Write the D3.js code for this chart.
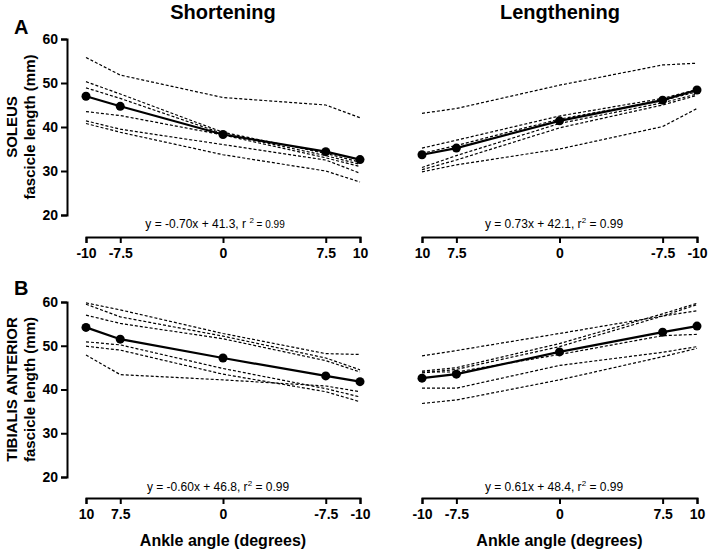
<!DOCTYPE html>
<html>
<head>
<meta charset="utf-8">
<script src="https://cdn.jsdelivr.net/npm/d3@7"></script>
<style>
  body { margin: 0; background: #fff; }
  text { font-family: "Liberation Sans", Arial, sans-serif; }
</style>
</head>
<body>
<svg id="chart" width="709" height="551"></svg>
<script>
// angle ticks shown on every x axis
const angleTicks = [-10, -7.5, 0, 7.5, 10];
const lengthTicks = [20, 30, 40, 50, 60];

// A - soleus, shortening (angles left to right: -10 .. 10)
const solShortAngles = [-10, -7.5, 0, 7.5, 10];
const solShortMean = [47.0, 44.7, 38.3, 34.4, 32.6];
const solShortSubjects = [
  [55.8, 51.8, 46.7, 45.0, 42.1],
  [50.3, 47.5, 38.8, 34.0, 32.0],
  [48.9, 46.5, 38.5, 33.5, 31.5],
  [43.5, 42.6, 38.2, 33.0, 31.0],
  [41.4, 39.5, 36.0, 32.5, 29.5],
  [40.8, 38.8, 33.7, 30.0, 27.5]
];

// A - soleus, lengthening (angles left to right: 10 .. -10)
const solLengthAngles = [10, 7.5, 0, -7.5, -10];
const solLengthMean = [33.7, 35.2, 41.4, 46.1, 48.4];
const solLengthSubjects = [
  [43.1, 44.2, 49.5, 54.1, 54.5],
  [35.2, 37.0, 42.5, 46.5, 48.5],
  [34.0, 35.8, 41.8, 46.0, 48.0],
  [30.8, 33.5, 40.8, 45.5, 47.5],
  [30.3, 32.5, 39.8, 45.0, 47.2],
  [29.8, 31.4, 35.0, 40.1, 44.2]
];

// B - tibialis anterior, shortening (angles left to right: 10 .. -10)
const taShortAngles = [10, 7.5, 0, -7.5, -10];
const taShortMean = [54.2, 51.5, 47.2, 43.1, 41.8];
const taShortSubjects = [
  [59.8, 58.2, 52.8, 48.2, 48.0],
  [59.5, 56.6, 52.2, 47.2, 44.5],
  [57.0, 55.1, 51.6, 46.6, 44.0],
  [50.9, 50.2, 44.8, 40.2, 38.3],
  [49.9, 49.0, 43.5, 39.5, 37.2],
  [47.9, 43.4, 42.2, 40.8, 39.5]
];

// B - tibialis anterior, lengthening (angles left to right: -10 .. 10)
const taLengthAngles = [-10, -7.5, 0, 7.5, 10];
const taLengthMean = [42.6, 43.5, 48.6, 53.1, 54.5];
const taLengthSubjects = [
  [47.7, 48.9, 52.8, 56.8, 58.0],
  [44.2, 45.0, 50.5, 57.3, 59.7],
  [43.8, 44.6, 49.8, 56.8, 59.4],
  [44.0, 44.0, 48.0, 52.3, 52.6],
  [40.3, 40.3, 45.5, 48.5, 49.8],
  [36.8, 37.6, 42.2, 47.5, 49.4]
];

const svg = d3.select("#chart");

const rows = [
  { y0: 215, y1: 39, axisY: 237, eqY: 228, muscle: "SOLEUS", letter: "A", letterY: 34 },
  { y0: 477, y1: 302, axisY: 498, eqY: 491, muscle: "TIBIALIS ANTERIOR", letter: "B", letterY: 295 }
];

const panels = [
  { row: 0, x0: 86, x1: 360, domain: [-10, 10], angles: solShortAngles, mean: solShortMean, subjects: solShortSubjects,
    eq: ["y = -0.70x + 41.3, r ", "2", " = 0.99"], eqX: 215, small: true },
  { row: 0, x0: 422, x1: 697, domain: [10, -10], angles: solLengthAngles, mean: solLengthMean, subjects: solLengthSubjects,
    eq: ["y = 0.73x + 42.1, r", "2", " = 0.99"], eqX: 554 },
  { row: 1, x0: 86, x1: 360, domain: [10, -10], angles: taShortAngles, mean: taShortMean, subjects: taShortSubjects,
    eq: ["y = -0.60x + 46.8, r", "2", " = 0.99"], eqX: 218, xlabel: true },
  { row: 1, x0: 422, x1: 697, domain: [-10, 10], angles: taLengthAngles, mean: taLengthMean, subjects: taLengthSubjects,
    eq: ["y = 0.61x + 48.4, r", "2", " = 0.99"], eqX: 554, xlabel: true }
];

// column titles
svg.append("text").attr("x", 223).attr("y", 19).attr("text-anchor", "middle")
  .attr("font-size", 20).attr("font-weight", "bold").text("Shortening");
svg.append("text").attr("x", 560).attr("y", 19).attr("text-anchor", "middle")
  .attr("font-size", 20).attr("font-weight", "bold").text("Lengthening");

rows.forEach(r => {
  const y = d3.scaleLinear().domain([20, 60]).range([r.y0, r.y1]);
  r.scale = y;

  const yg = svg.append("g").attr("transform", "translate(67,0)")
    .call(d3.axisLeft(y).tickValues(lengthTicks).tickSizeOuter(0).tickSize(6).tickPadding(3));
  yg.select(".domain").attr("stroke-width", 2);
  yg.selectAll(".tick line").attr("stroke-width", 2);
  yg.selectAll(".tick text").attr("font-size", 14).attr("font-weight", "bold")
    .attr("font-family", "Liberation Sans, Arial, sans-serif").attr("fill", "#000");

  const midY = (r.y0 + r.y1) / 2;
  svg.append("text").attr("transform", `translate(17,${midY}) rotate(-90)`)
    .attr("text-anchor", "middle").attr("font-size", 15).attr("font-weight", "bold").text(r.muscle);
  svg.append("text").attr("transform", `translate(35,${midY}) rotate(-90)`)
    .attr("text-anchor", "middle").attr("font-size", 15).attr("font-weight", "bold").text("fascicle length (mm)");

  svg.append("text").attr("x", 14).attr("y", r.letterY)
    .attr("font-size", 20).attr("font-weight", "bold").text(r.letter);
});

panels.forEach(p => {
  const r = rows[p.row];
  const x = d3.scaleLinear().domain(p.domain).range([p.x0, p.x1]);
  const y = r.scale;

  const xg = svg.append("g").attr("transform", `translate(0,${r.axisY})`)
    .call(d3.axisBottom(x).tickValues(angleTicks).tickFormat(d => String(d))
      .tickSizeOuter(0).tickSize(6).tickPadding(5));
  xg.select(".domain").attr("stroke-width", 2);
  xg.selectAll(".tick line").attr("stroke-width", 2);
  xg.selectAll(".tick text").attr("font-size", 14).attr("font-weight", "bold")
    .attr("font-family", "Liberation Sans, Arial, sans-serif").attr("fill", "#000");

  if (p.xlabel) {
    svg.append("text").attr("x", x(0)).attr("y", 546).attr("text-anchor", "middle")
      .attr("font-size", 16).attr("font-weight", "bold").text("Ankle angle (degrees)");
  }

  const line = d3.line().x(d => x(d[0])).y(d => y(d[1]));

  svg.append("g").selectAll("path.subject")
    .data(p.subjects)
    .join("path")
    .attr("class", "subject")
    .attr("d", s => line(s.map((v, i) => [p.angles[i], v])))
    .attr("fill", "none").attr("stroke", "#000")
    .attr("stroke-width", 1.2).attr("stroke-dasharray", "3,2");

  const meanPts = p.mean.map((v, i) => [p.angles[i], v]);
  svg.append("path").attr("d", line(meanPts))
    .attr("fill", "none").attr("stroke", "#000").attr("stroke-width", 2.2);
  svg.append("g").selectAll("circle")
    .data(meanPts)
    .join("circle")
    .attr("cx", d => x(d[0])).attr("cy", d => y(d[1])).attr("r", 4.5).attr("fill", "#000");

  const eq = svg.append("text").attr("x", p.eqX).attr("y", r.eqY)
    .attr("text-anchor", "middle").attr("font-size", 12);
  eq.append("tspan").text(p.eq[0]);
  eq.append("tspan").attr("font-size", 8).attr("dy", -5).text(p.eq[1]);
  eq.append("tspan").attr("dy", 5).attr("font-size", p.small ? 10 : 12).text(p.eq[2]);
});
</script>
</body>
</html>
